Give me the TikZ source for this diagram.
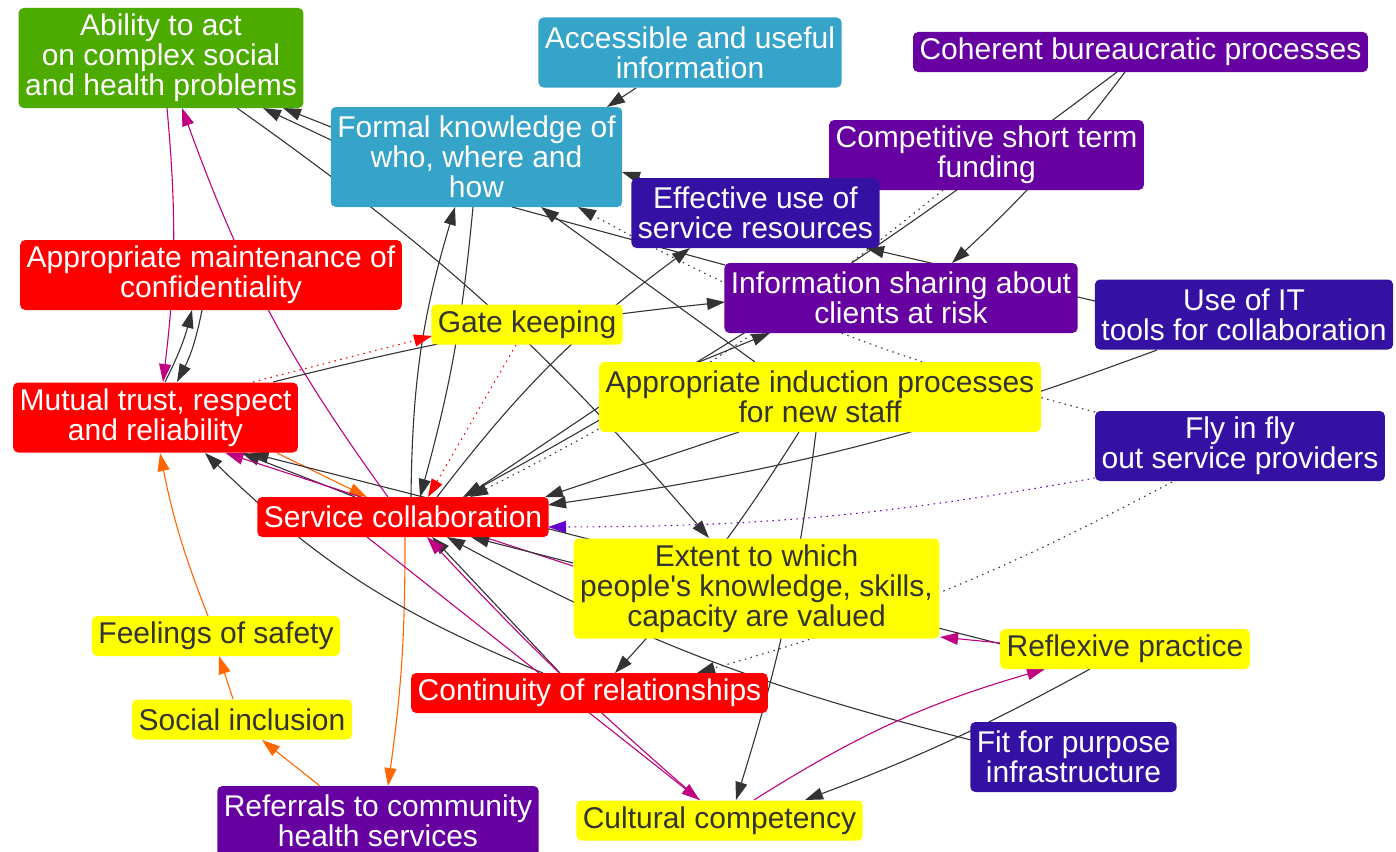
\documentclass[tikz,border=0pt]{standalone}
\usepackage{fontspec}
\setmainfont{Liberation Sans}
\usetikzlibrary{positioning,calc,arrows.meta,backgrounds}

\definecolor{cgreen}{RGB}{77,171,0}
\definecolor{cteal}{RGB}{54,163,201}
\definecolor{cpurple}{RGB}{102,0,160}
\definecolor{cindigo}{RGB}{52,17,162}
\definecolor{cred}{RGB}{255,0,0}
\definecolor{cyellow}{RGB}{255,255,0}
\definecolor{ctext}{RGB}{51,51,51}
\definecolor{cdark}{RGB}{51,51,51}
\definecolor{cmag}{RGB}{192,0,128}
\definecolor{corange}{RGB}{255,102,0}
\definecolor{cviolet}{RGB}{102,0,204}

\tikzset{
  box/.style={rectangle, rounded corners=5pt, inner xsep=6.5pt, inner ysep=2pt,
    align=center, text=white, font=\fontsize{30}{30}\selectfont},
  one/.style={minimum height=40pt},
  two/.style={minimum height=70pt},
  three/.style={minimum height=100pt},
  grn/.style={box, fill=cgreen},
  teal/.style={box, fill=cteal},
  prp/.style={box, fill=cpurple},
  ind/.style={box, fill=cindigo},
  rd/.style={box, fill=cred},
  yel/.style={box, fill=cyellow, text=ctext},
  lnk/.style={line width=1.1pt, -{Triangle[length=18pt,width=12pt]}},
  dk/.style={lnk, draw=cdark},
  mg/.style={lnk, draw=cmag},
  or/.style={lnk, draw=corange},
  dkdot/.style={dk, dash pattern=on 1.5pt off 4.5pt},
  rddot/.style={lnk, draw=cred, dash pattern=on 1.5pt off 4.5pt},
  vidot/.style={lnk, draw=cviolet, dash pattern=on 1.5pt off 4.5pt},
}

\begin{document}
\begin{tikzpicture}[x=1pt, y=-1pt]
	\useasboundingbox (0,0) rectangle (1396,851);

	% factors
	\node[grn, three] (ability) at (161,58) {Ability to act\\on complex social\\and health problems};
	\node[teal, two] (access) at (690,52.5) {Accessible and useful\\information};
	\node[teal, three] (formal) at (476.5,157) {Formal knowledge of\\who, where and\\how};
	\node[prp, one] (coherent) at (1140.5,52) {Coherent bureaucratic processes};
	\node[prp, two] (compet) at (986.5,155) {Competitive short term\\funding};
	\node[ind, two] (effective) at (755.5,213) {Effective use of\\service resources};
	\node[rd, two] (confid) at (211,275) {Appropriate maintenance of\\confidentiality};
	\node[prp, two] (infoshare) at (901,298) {Information sharing about\\clients at risk};
	\node[ind, two] (useit) at (1244,314.5) {Use of IT\\tools for collaboration};
	\node[yel, one] (gate) at (527,324.5) {Gate keeping};
	\node[yel, two] (induction) at (820,397) {Appropriate induction processes\\for new staff};
	\node[rd, two] (mutual) at (155.5,417.5) {Mutual trust, respect\\and reliability};
	\node[ind, two] (flyin) at (1240,446) {Fly in fly\\out service providers};
	\node[rd, one] (service) at (403,517) {Service collaboration};
	\node[yel, three] (extent) at (756.5,588.5) {Extent to which\\people\textquotesingle s knowledge, skills,\\capacity are valued};
	\node[yel, one] (reflex) at (1125,649) {Reflexive practice};
	\node[yel, one] (feelings) at (216,636) {Feelings of safety};
	\node[rd, one] (contin) at (589.5,693) {Continuity of relationships};
	\node[yel, one] (social) at (242,719.5) {Social inclusion};
	\node[ind, two] (fit) at (1073.5,757) {Fit for purpose\\infrastructure};
	\node[prp, two] (referral) at (378,821) {Referrals to community\\health services};
	\node[yel, one] (cultural) at (719.5,820.5) {Cultural competency};

	% links
	\begin{scope}[on background layer]
		\draw[dk] ($(formal)+(-145.5,-30)$) -- ($(ability)+(122,50)$);
		\draw[dk] ($(formal)+(-145.5,-17)$) -- ($(ability)+(102,50)$);
		\draw[dk] ($(ability)+(76,50)$) to[bend left=7] ($(extent)+(-47.5,-50.5)$);
		\draw[mg] ($(ability)+(6,50)$) to[bend left=6] ($(mutual)+(7.5,-35.5)$);
		\draw[mg] ($(service)+(-15,-20)$) to[bend left=8] ($(ability)+(21,50)$);

		\draw[dk] ($(access)+(-54,35.5)$) -- ($(formal)+(130.5,-50)$);
		\draw[dk] ($(effective)+(-115.5,-35)$) -- ($(formal)+(145.5,15)$);
		\draw[dk] ($(induction)+(-65,-35)$) -- ($(formal)+(64.5,50)$);
		\draw[dkdot] ($(flyin)+(-145,-34)$) to[bend left=7] ($(formal)+(101.5,50)$);
		\draw[dk] ($(formal)+(-3.5,50)$) to[bend left=5] ($(service)+(17,-20)$);
		\draw[dk] ($(service)+(8,-20)$) to[bend left=8] ($(formal)+(-21.5,50)$);
		\draw[dk, -] ($(formal)+(35.5,50)$) -- ($(infoshare)+(-176,-33)$);

		\draw[dk] ($(useit)+(-149,-13.5)$) -- ($(effective)+(110.5,35)$);
		\draw[dk] ($(service)+(34,-20)$) to[bend left=8] ($(effective)+(-65.5,35)$);
		\draw[dk] ($(mutual)+(117.5,-35.5)$) to[bend left=4] ($(infoshare)+(-176,4)$);
		\draw[rddot] ($(mutual)+(97.5,-35.5)$) -- ($(gate)+(-95,11.5)$);
		\draw[rddot] ($(gate)+(-11,20.5)$) -- ($(service)+(25,-20)$);

		\draw[dk] ($(coherent)+(-15.5,20)$) to[bend left=5] ($(infoshare)+(51,-35)$);
		\draw[dk] ($(coherent)+(-23.5,20)$) to[bend left=4] ($(service)+(60,-20)$);
		\draw[dkdot] ($(compet)+(-43.5,35)$) to[bend left=6] ($(service)+(67,-20)$);
		\draw[dk] ($(induction)+(-121,-35)$) -- ($(infoshare)+(-131,35)$);

		\draw[dk] ($(induction)+(-221,10)$) -- ($(service)+(62,-20)$);
		\draw[dk] ($(induction)+(-81,35)$) -- ($(service)+(142,-20)$);
		\draw[dk] ($(useit)+(-87,35.5)$) to[bend left=6] ($(service)+(145,-12)$);
		\draw[vidot] ($(flyin)+(-145,32)$) to[bend left=5] ($(service)+(145,10)$);
		\draw[dkdot] ($(flyin)+(-68,36)$) to[bend left=6] ($(contin)+(107.5,-20)$);

		\draw[dk] ($(mutual)+(9.5,-35.5)$) to[bend right=6] ($(confid)+(-19,35)$);
		\draw[dk] ($(confid)+(-9,35)$) to[bend left=8] ($(mutual)+(21.5,-35.5)$);
		\draw[or] ($(mutual)+(121.5,35.5)$) -- ($(service)+(-36,-20)$);
		\draw[dk] ($(service)+(-48,-20)$) -- ($(mutual)+(86.5,35.5)$);
		\draw[mg] ($(extent)+(-183.5,-22.5)$) -- ($(mutual)+(70,35.5)$);
		\draw[dk] ($(reflex)+(-124,-5)$) -- ($(mutual)+(95,35.5)$);

		\draw[or] ($(feelings)+(-8,-20)$) to[bend left=5] ($(mutual)+(4.5,35.5)$);
		\draw[or] ($(social)+(-9,-20.5)$) -- ($(feelings)+(3,20)$);
		\draw[or] ($(referral)+(-58,-35)$) -- ($(social)+(20,20.5)$);
		\draw[or] ($(service)+(2,20)$) to[bend left=4] ($(referral)+(10,-35)$);

		\draw[dk] ($(induction)+(-21,35)$) to[bend left=5] ($(contin)+(25.5,-20)$);
		\draw[dk] ($(induction)+(-4,35)$) to[bend left=5] ($(cultural)+(16.5,-20.5)$);
		\draw[mg] ($(reflex)+(-124,-6)$) -- ($(extent)+(183.5,48.5)$);
		\draw[dk] ($(extent)+(-183.5,-25.5)$) -- ($(service)+(68,20)$);
		\draw[dk] ($(fit)+(-102.5,-17)$) to[bend left=7] ($(service)+(44,20)$);

		\draw[dk] ($(contin)+(-46.5,-20)$) to[bend left=11] ($(mutual)+(49.5,35.5)$);
		\draw[dk] ($(contin)+(-29.5,-20)$) -- ($(service)+(29,20)$);
		\draw[mg] ($(service)+(-36,20)$) -- ($(cultural)+(-20,-20.5)$);
		\draw[mg] ($(cultural)+(-20,-20.5)$) to[bend left=3] ($(service)+(24,20)$);
		\draw[dk] ($(reflex)+(-35,20)$) to[bend left=4] ($(cultural)+(85.5,-20.5)$);
		\draw[mg] ($(cultural)+(34.5,-20.5)$) to[bend left=8] ($(reflex)+(-80,20)$);
	\end{scope}
\end{tikzpicture}
\end{document}
